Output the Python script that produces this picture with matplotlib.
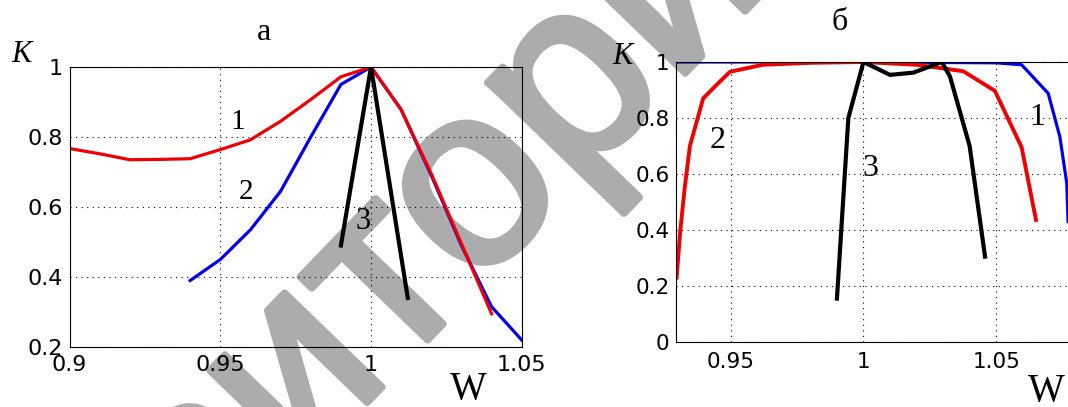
import matplotlib
matplotlib.use('Agg')
import matplotlib.pyplot as plt
import matplotlib.patheffects as pe

plt.rcParams['font.family'] = ['DejaVu Sans']

# panel a
w1a = [0.90, 0.91, 0.92, 0.93, 0.94, 0.95, 0.96, 0.97, 0.98, 0.99, 1.00, 1.01, 1.02, 1.03, 1.04]
k1a = [0.767, 0.752, 0.735, 0.736, 0.738, 0.764, 0.792, 0.845, 0.907, 0.972, 1.0, 0.878, 0.695, 0.495, 0.295]
w2a = [0.94, 0.95, 0.96, 0.97, 0.98, 0.99, 1.00, 1.01, 1.02, 1.03, 1.04, 1.05]
k2a = [0.39, 0.45, 0.535, 0.645, 0.80, 0.95, 1.0, 0.878, 0.69, 0.49, 0.315, 0.22]
w3a = [0.99, 1.00, 1.0122]
k3a = [0.49, 1.0, 0.34]

# panel б
w1b = [0.9295, 1.00, 1.05, 1.0596, 1.0696, 1.074, 1.0766, 1.0771]
k1b = [1.0, 1.0, 0.997, 0.99, 0.888, 0.733, 0.567, 0.43]
w2b = [0.9296, 0.931, 0.9327, 0.9346, 0.9396, 0.9446, 0.9497, 0.962, 0.98, 1.0, 1.02, 1.0376, 1.0495, 1.0596, 1.065]
k2b = [0.23, 0.40, 0.555, 0.70, 0.87, 0.918, 0.965, 0.99, 0.997, 1.0, 0.99, 0.967, 0.897, 0.695, 0.436]
w3b = [0.990, 0.9943, 1.0, 1.010, 1.0188, 1.0295, 1.0326, 1.040, 1.0458]
k3b = [0.155, 0.80, 1.0, 0.954, 0.962, 1.0, 0.948, 0.70, 0.305]

fig = plt.figure(figsize=(10.68, 4.07), dpi=100)

# watermark, behind everything
wm_color = '#acacac'
fig.text(0.462, 0.575, 'зиторий', rotation=46, fontsize=185,
         color=wm_color, ha='center', va='center', zorder=-5, family='Liberation Sans',
         path_effects=[pe.withStroke(linewidth=5, foreground=wm_color)])

grid_kw = dict(color='black', linestyle=(0, (1, 4)), linewidth=0.8)
serif = 'Liberation Serif'
red = '#f00000'
blue = '#0000f0'

ax1 = fig.add_axes([0.0652, 0.1474, 0.4233, 0.688])
ax1.patch.set_alpha(0)
ax1.plot(w2a, k2a, color=blue, lw=2.3)
ax1.plot(w1a, k1a, color=red, lw=2.3)
ax1.plot(w3a, k3a, color='black', lw=3.0)
ax1.set_xlim(0.9, 1.05)
ax1.set_ylim(0.2, 1.0)
ax1.set_xticks([0.9, 0.95, 1.0, 1.05])
ax1.set_xticklabels(['0.9', '0.95', '1', '1.05'])
ax1.set_yticks([0.2, 0.4, 0.6, 0.8, 1.0])
ax1.set_yticklabels(['0.2', '0.4', '0.6', '0.8', '1'])
ax1.grid(True, **grid_kw)
ax1.tick_params(labelsize=16, length=0)
ax1.tick_params(axis='y', pad=5)
ax1.tick_params(axis='x', pad=6)
ax1.text(0.9557, 0.843, '1', fontsize=21, family=serif, ha='center', va='center')
ax1.text(0.9585, 0.644, '2', fontsize=21, family=serif, ha='center', va='center')
ax1.text(0.9975, 0.558, '3', fontsize=22, family=serif, ha='center', va='center')

ax2 = fig.add_axes([0.6333, 0.1597, 0.374, 0.688])
ax2.patch.set_alpha(0)
ax2.plot(w1b, k1b, color=blue, lw=2.3)
ax2.plot(w2b, k2b, color=red, lw=2.8)
ax2.plot(w3b, k3b, color='black', lw=3.0)
ax2.set_xlim(0.9295, 1.08)
ax2.set_ylim(0, 1.0)
ax2.set_xticks([0.95, 1.0, 1.05])
ax2.set_xticklabels(['0.95', '1', '1.05'])
ax2.set_yticks([0, 0.2, 0.4, 0.6, 0.8, 1.0])
ax2.set_yticklabels(['0', '0.2', '0.4', '0.6', '0.8', '1'])
ax2.grid(True, **grid_kw)
ax2.tick_params(labelsize=15.5, length=0)
ax2.tick_params(axis='y', pad=5)
ax2.tick_params(axis='x', pad=7)
ax2.text(0.9452, 0.721, '2', fontsize=23, family=serif, ha='center', va='center')
ax2.text(1.0026, 0.62, '3', fontsize=23, family=serif, ha='center', va='center')
ax2.text(1.0655, 0.80, '1', fontsize=23, family=serif, ha='center', va='center')

# titles and axis labels
fig.text(264.5 / 1068, 1 - 32 / 407, 'а', fontsize=23, family=serif, ha='center', va='center')
fig.text(840 / 1068, 1 - 22 / 407, 'б', fontsize=23, family=serif, ha='center', va='center')
fig.text(21 / 1068, 1 - 54 / 407, 'К', fontsize=22, family=serif, style='italic', ha='center', va='center')
fig.text(622 / 1068, 1 - 57 / 407, 'К', fontsize=22, family=serif, style='italic', ha='center', va='center')
fig.text(468 / 1068, 1 - 390 / 407, 'W', fontsize=28, family=serif, ha='center', va='center')
fig.text(1046 / 1068, 1 - 392 / 407, 'W', fontsize=28, family=serif, ha='center', va='center')

fig.savefig('out.png', dpi=100)
